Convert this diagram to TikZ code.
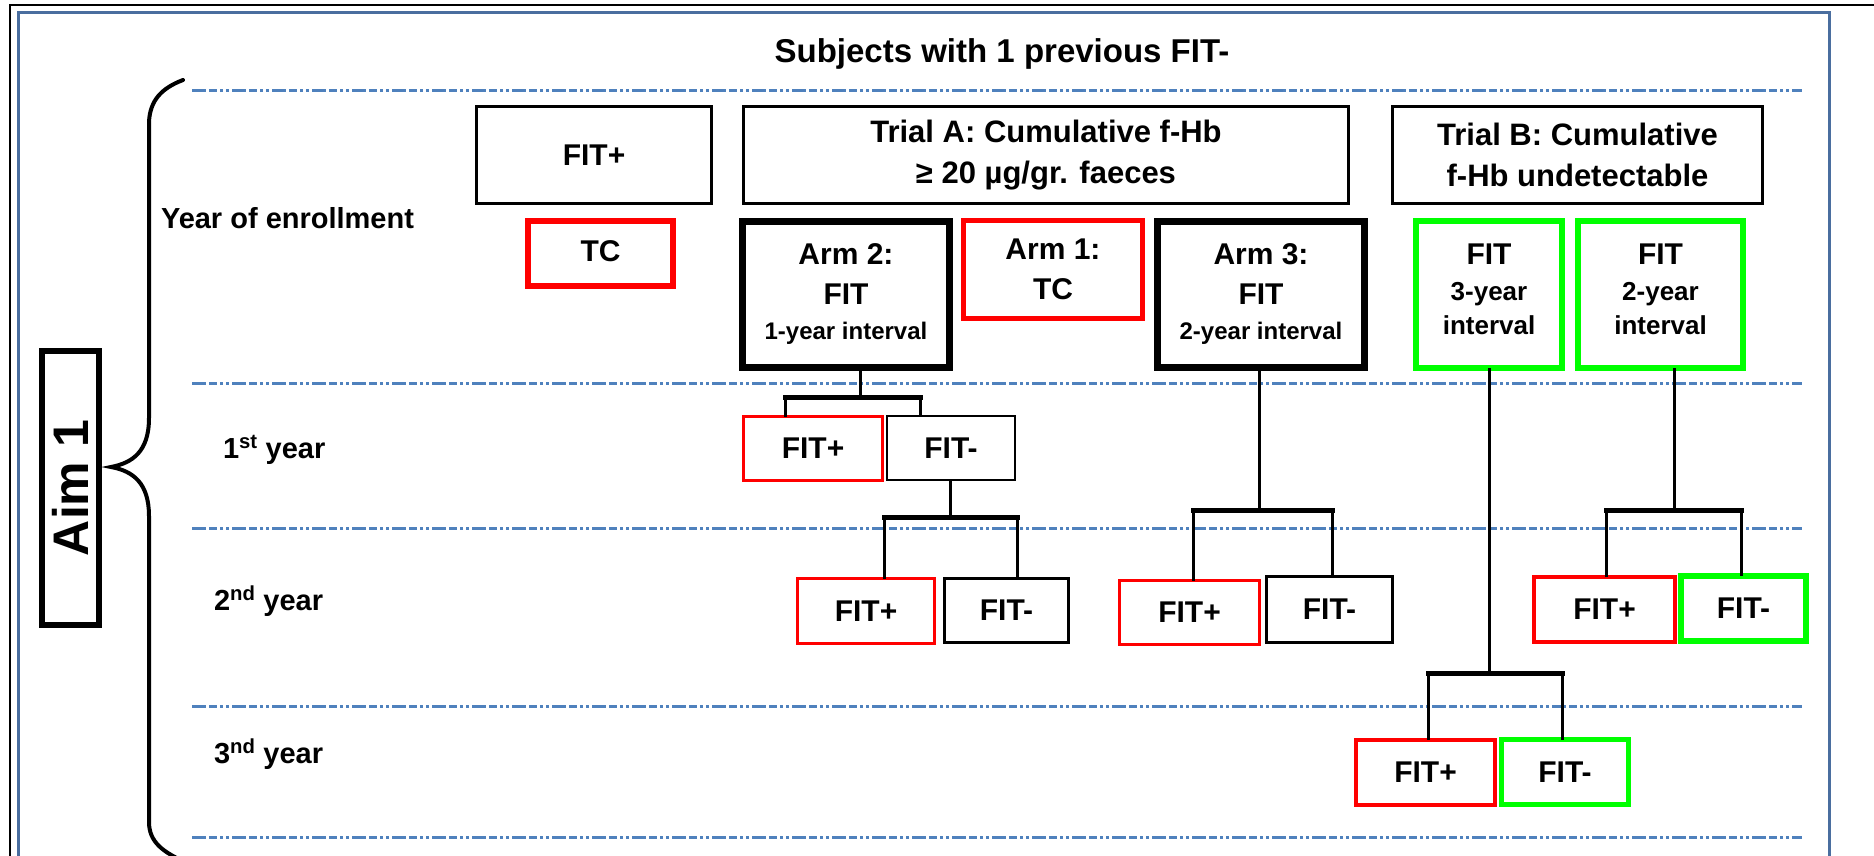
\documentclass[tikz,border=0pt]{standalone}
\usepackage{fontspec}
\setmainfont{Liberation Sans}
\definecolor{fitred}{RGB}{255,0,0}
\definecolor{fitgreen}{RGB}{0,255,0}
\definecolor{dashblue}{HTML}{4F81BD}
\definecolor{frameblue}{HTML}{4A6E9F}
\begin{document}
\begin{tikzpicture}[x=1pt,y=-1pt,
  every node/.style={inner sep=0pt, outer sep=0pt, text=black},
  bx/.style={draw, rectangle, align=center},
  tb/.style={font=\fontsize{31}{41}\selectfont\bfseries},
  mb/.style={font=\fontsize{30}{40}\selectfont\bfseries},
  rowline/.style={dashblue, line width=3, dash pattern=on 14pt off 3pt on 8pt off 3pt on 3pt off 3pt on 3pt off 3pt},
  conn/.style={black, line width=3},
  bar/.style={black, line width=5, line cap=rect},
  lbl/.style={anchor=base west, font=\fontsize{29}{36}\selectfont\bfseries}
]
\useasboundingbox (0,0) rectangle (1874,856);
\begin{scope}
\clip (0,0) rectangle (1874,856);

% page frames
\draw[black, line width=1.5] (10,870) -- (10,5) -- (1874,5);
\draw[frameblue, line width=3] (18,870) -- (18,12.5) -- (1829,12.5) -- (1829,870);

% title
\node[anchor=base, font=\fontsize{33}{40}\selectfont\bfseries] (title) at (1002,63) {Subjects with 1 previous FIT-};

% row separators
\foreach \yy in {91,383,528,706,837}
  \draw[rowline] (192,\yy) -- (1802,\yy);

% curly brace
\draw[line width=4, line cap=round] (183,80) .. controls (162,88) and (150,100) .. (149,122)
  -- (149,418) .. controls (149,452) and (132,463) .. (111,467)
  .. controls (133,471) and (149,483) .. (149,516)
  -- (149,822) .. controls (149,842) and (163,852) .. (185,862);

% aim box
\node[bx, line width=6, rotate=90, minimum width=274, minimum height=57,
      font=\fontsize{50}{60}\selectfont\bfseries] (aim) at (70.5,488) {Aim 1};

% row labels
\node[lbl] (lenrol) at (161,228) {Year of enrollment};
\node[lbl] (lone) at (223,458) {1\textsuperscript{st} year};
\node[lbl] (ltwo) at (214,610) {2\textsuperscript{nd} year};
\node[lbl] (lthree) at (214,763) {3\textsuperscript{nd} year};

% header boxes
\node[bx, mb, line width=3, minimum width=235, minimum height=97] (fittop) at (594,155) {FIT+};
\node[bx, tb, line width=3, minimum width=605, minimum height=97] (trialA) at (1046,155)
  {Trial A: Cumulative f-Hb\\≥ 20 µg/gr. faeces};
\node[bx, tb, line width=3, minimum width=370, minimum height=97] (trialB) at (1577.5,155)
  {Trial B: Cumulative\\f-Hb undetectable};

% enrollment-year boxes
\node[bx, mb, draw=fitred, line width=6, minimum width=145, minimum height=65, text depth=4pt] (tctop) at (600.5,253.5) {TC};
\node[bx, mb, line width=7, minimum width=207, minimum height=146] (arm2) at (846,294.5)
  {Arm 2:\\FIT\\[-5pt]{\fontsize{24}{30}\selectfont 1-year interval}};
\node[bx, mb, draw=fitred, line width=5, minimum width=179, minimum height=98] (arm1) at (1053,269.5)
  {Arm 1:\\TC};
\node[bx, mb, line width=7, minimum width=207, minimum height=146] (arm3) at (1261,294.5)
  {Arm 3:\\FIT\\[-5pt]{\fontsize{24}{30}\selectfont 2-year interval}};
\node[bx, mb, draw=fitgreen, line width=6, minimum width=146, minimum height=147, text depth=11pt] (gthree) at (1489,294.5)
  {FIT\\[-4pt]{\fontsize{26}{34}\selectfont 3-year}\\[-6pt]{\fontsize{26}{34}\selectfont interval}};
\node[bx, mb, draw=fitgreen, line width=6, minimum width=165, minimum height=147, text depth=11pt] (gtwo) at (1660.5,294.5)
  {FIT\\[-4pt]{\fontsize{26}{34}\selectfont 2-year}\\[-6pt]{\fontsize{26}{34}\selectfont interval}};

% first year
\node[bx, mb, draw=fitred, line width=3, minimum width=139, minimum height=64] (yonep) at (813,448.5) {FIT+};
\node[bx, mb, line width=1.5, minimum width=128, minimum height=64] (yonem) at (951,448) {FIT-};

% second year
\node[bx, mb, draw=fitred, line width=3, minimum width=137, minimum height=65] (atwop) at (866,611) {FIT+};
\node[bx, mb, line width=3, minimum width=124, minimum height=64] (atwom) at (1006.5,610.5) {FIT-};
\node[bx, mb, draw=fitred, line width=3, minimum width=140, minimum height=64] (athrp) at (1189.5,612.5) {FIT+};
\node[bx, mb, line width=3.5, minimum width=126, minimum height=66] (athrm) at (1329.5,609.5) {FIT-};
\node[bx, mb, draw=fitred, line width=4, minimum width=141, minimum height=65] (btwop) at (1604.5,609.5) {FIT+};
\node[bx, mb, draw=fitgreen, line width=6, minimum width=125, minimum height=65] (btwom) at (1743.5,608.5) {FIT-};

% third year
\node[bx, mb, draw=fitred, line width=4, minimum width=139, minimum height=65] (cthrp) at (1425.5,772.5) {FIT+};
\node[bx, mb, draw=fitgreen, line width=5, minimum width=127, minimum height=65] (cthrm) at (1565,772) {FIT-};

% branch points
\coordinate (ja) at (860,397);  \coordinate (jaL) at (785,397);  \coordinate (jaR) at (920,397);
\coordinate (jb) at (950,517);  \coordinate (jbL) at (884,517);  \coordinate (jbR) at (1017,517);
\coordinate (jc) at (1259,510); \coordinate (jcL) at (1193,510); \coordinate (jcR) at (1332,510);
\coordinate (jd) at (1489,673); \coordinate (jdL) at (1428,673); \coordinate (jdR) at (1562,673);
\coordinate (je) at (1674,510); \coordinate (jeL) at (1606,510); \coordinate (jeR) at (1741,510);

% Arm 2 -> first year
\draw[conn] (arm2.south -| ja) -- (ja);
\draw[bar] (jaL) -- (jaR);
\draw[conn] (jaL) -- (jaL |- yonep.north);
\draw[conn] (jaR) -- (jaR |- yonem.north);
% first-year FIT- -> second year
\draw[conn] (yonem.south -| jb) -- (jb);
\draw[bar] (jbL) -- (jbR);
\draw[conn] (jbL) -- (jbL |- atwop.north);
\draw[conn] (jbR) -- (jbR |- atwom.north);
% Arm 3 -> second year
\draw[conn] (arm3.south -| jc) -- (jc);
\draw[bar] (jcL) -- (jcR);
\draw[conn] (jcL) -- (jcL |- athrp.north);
\draw[conn] (jcR) -- (jcR |- athrm.north);
% FIT 3-year -> third year
\draw[conn] (gthree.south -| jd) -- (jd);
\draw[bar] (jdL) -- (jdR);
\draw[conn] (jdL) -- (jdL |- cthrp.north);
\draw[conn] (jdR) -- (jdR |- cthrm.north);
% FIT 2-year -> second year
\draw[conn] (gtwo.south -| je) -- (je);
\draw[bar] (jeL) -- (jeR);
\draw[conn] (jeL) -- (jeL |- btwop.north);
\draw[conn] (jeR) -- (jeR |- btwom.north);
\end{scope}
\end{tikzpicture}
\end{document}
